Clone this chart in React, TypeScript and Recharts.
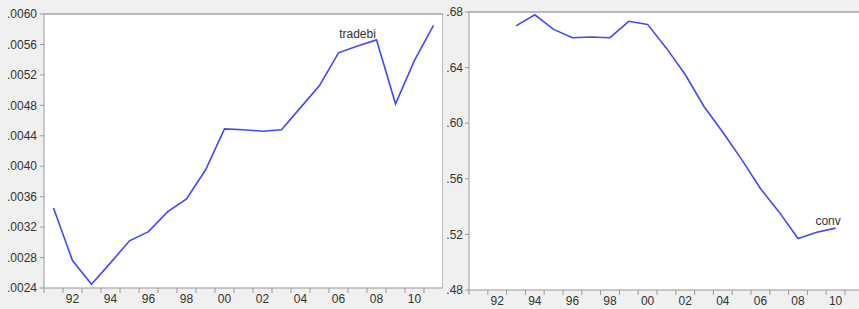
import { LineChart, Line, XAxis, YAxis, CartesianGrid, ReferenceLine, ReferenceDot } from "recharts"

// annual series, two panels (eviews style)
const tradeYears = [1991, 1992, 1993, 1994, 1995, 1996, 1997, 1998, 1999, 2000, 2001, 2002, 2003, 2004, 2005, 2006, 2007, 2008, 2009, 2010, 2011]
const tradebi = [0.00345, 0.00276, 0.00245, 0.00273, 0.00302, 0.00314, 0.0034, 0.00357, 0.00395, 0.00449, 0.00448, 0.00446, 0.00448, 0.00477, 0.00506, 0.00549, 0.00558, 0.00566, 0.00482, 0.00539, 0.00585]

const convYears = [1993, 1994, 1995, 1996, 1997, 1998, 1999, 2000, 2001, 2002, 2003, 2004, 2005, 2006, 2007, 2008, 2009, 2010]
const conv = [0.67, 0.678, 0.6675, 0.6615, 0.662, 0.6615, 0.6733, 0.6711, 0.654, 0.635, 0.612, 0.5935, 0.574, 0.553, 0.536, 0.517, 0.5215, 0.5245]

const tradeTicks = [0.0024, 0.0028, 0.0032, 0.0036, 0.004, 0.0044, 0.0048, 0.0052, 0.0056, 0.006]
const convTicks = [0.48, 0.52, 0.56, 0.6, 0.64, 0.68]
const yearTicks = [1991, 1992, 1993, 1994, 1995, 1996, 1997, 1998, 1999, 2000, 2001, 2002, 2003, 2004, 2005, 2006, 2007, 2008, 2009, 2010, 2011]

const tradeData = tradeYears.map((year, i) => ({ year, v: tradebi[i] }))
const convData = convYears.map((year, i) => ({ year, v: conv[i] }))

const FONT = "'Liberation Sans', Arial, sans-serif"
const TXT = "#333"
const AXIS = "#9a9a9a"
const FRAME = "#7a7a7a"
const BLUE = "#4646ff"

// drop the leading zero like eviews does: .0044
const noZero = (d: number) => (v: number) => v.toFixed(d).replace(/^0/, "")

// tick at each period boundary, even years labelled in the middle of the period
const makeYearTick = (pw: number) => (props: any) => {
  const { x, y, payload } = props
  const v = payload.value as number
  return (
    <g>
      <line x1={x} y1={y} x2={x} y2={y + 5} stroke={AXIS} />
      {v % 2 === 0 && (
        <text x={x + pw / 2} y={y + 15} textAnchor="middle" fontSize={12} fontFamily={FONT} fill={TXT}>
          {String(v % 100).padStart(2, "0")}
        </text>
      )}
    </g>
  )
}

export default function App() {
  const leftPw = 19
  const rightPw = 18.8
  return (
    <div style={{ position: "absolute", left: 0, top: 0, width: 859, height: 309, overflow: "hidden", background: "#f0f0f0" }}>
      <div style={{ position: "absolute", left: 0, top: 0 }}>
        <LineChart width={44 + leftPw * 21} height={309} data={tradeData} margin={{ top: 14, right: 0, left: 0, bottom: 0 }}>
          <CartesianGrid fill="#fff" horizontal={false} vertical={false} />
          <XAxis
            type="number"
            dataKey={(d: any) => d.year + 0.5}
            domain={[1991, 2012]}
            ticks={yearTicks}
            interval={0}
            height={21}
            stroke={AXIS}
            tickSize={0}
            tickMargin={0}
            tick={makeYearTick(leftPw)}
            allowDataOverflow
          />
          <YAxis
            domain={[0.0024, 0.006]}
            ticks={tradeTicks}
            interval={0}
            width={44}
            stroke={AXIS}
            tickSize={4}
            tickMargin={3}
            tickFormatter={noZero(4)}
            tick={{ fontSize: 12, fill: TXT, fontFamily: FONT }}
            allowDataOverflow
          />
          <ReferenceLine y={0.006} stroke={FRAME} />
          <ReferenceLine x={2012} stroke={FRAME} />
          <Line type="linear" dataKey="v" stroke={BLUE} strokeWidth={1.6} dot={false} isAnimationActive={false} />
          <ReferenceDot
            x={2007.5}
            y={0.00558}
            r={0}
            stroke="none"
            label={{ value: "tradebi", position: "top", offset: 8, fontSize: 12, fill: TXT, fontFamily: FONT }}
          />
        </LineChart>
      </div>

      <div style={{ position: "absolute", left: 444, top: 0 }}>
        <LineChart width={25 + rightPw * 21} height={309} data={convData} margin={{ top: 12, right: 0, left: 0, bottom: 0 }}>
          <CartesianGrid fill="#fff" horizontal={false} vertical={false} />
          <XAxis
            type="number"
            dataKey={(d: any) => d.year + 0.5}
            domain={[1991, 2012]}
            ticks={yearTicks}
            interval={0}
            height={19}
            stroke={AXIS}
            tickSize={0}
            tickMargin={0}
            tick={makeYearTick(rightPw)}
            allowDataOverflow
          />
          <YAxis
            domain={[0.48, 0.68]}
            ticks={convTicks}
            interval={0}
            width={25}
            stroke={AXIS}
            tickSize={4}
            tickMargin={2}
            tickFormatter={noZero(2)}
            tick={{ fontSize: 12, fill: TXT, fontFamily: FONT }}
            allowDataOverflow
          />
          <ReferenceLine y={0.68} stroke={FRAME} />
          <Line type="linear" dataKey="v" stroke={BLUE} strokeWidth={1.6} dot={false} isAnimationActive={false} />
          <ReferenceDot
            x={2010.1}
            y={0.5245}
            r={0}
            stroke="none"
            label={{ value: "conv", position: "top", offset: 3, fontSize: 12, fill: TXT, fontFamily: FONT }}
          />
        </LineChart>
      </div>
    </div>
  )
}
